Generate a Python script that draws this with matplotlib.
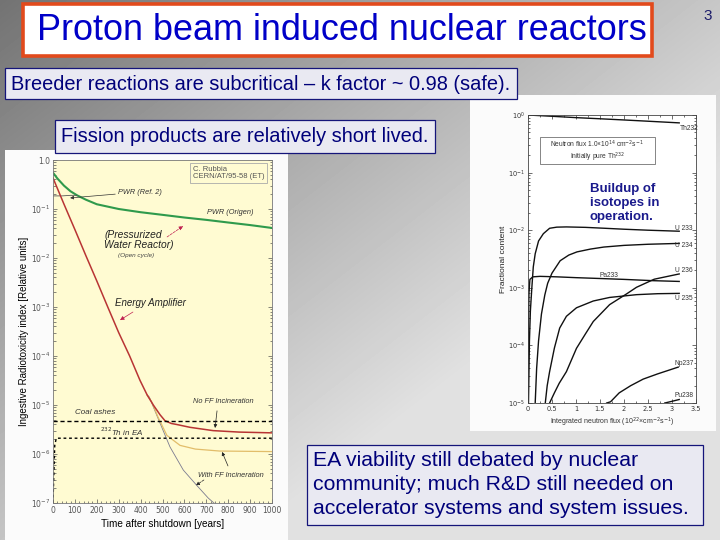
import numpy as np
import matplotlib
matplotlib.use('Agg')
import matplotlib.pyplot as plt
from matplotlib.patches import Rectangle

# ---------------------------------------------------------------------------
# Slide text
# ---------------------------------------------------------------------------
title = "Proton beam induced nuclear reactors"
bullet_k = "Breeder reactions are subcritical \u2013 k factor ~ 0.98 (safe)."
bullet_fp = "Fission products are relatively short lived."
bullet_ea = ["EA viability still debated by nuclear",
             "community; much R&D still needed on",
             "accelerator systems and system issues."]
buildup = "Buildup of\nisotopes in\noperation."
page_no = "3"

# ---------------------------------------------------------------------------
# Left panel: radiotoxicity vs time after shutdown
# ---------------------------------------------------------------------------
t_pwr = [0, 20, 50, 80, 110, 150, 200, 300, 400, 500, 600, 700, 800, 900, 1000]
pwr_origen = [0.55, 0.42, 0.30, 0.23, 0.19, 0.155, 0.125, 0.10, 0.086,
              0.076, 0.067, 0.060, 0.053, 0.047, 0.041]
t_ref2 = [0, 40, 80, 110]
pwr_ref2 = [0.185, 0.185, 0.19, 0.19]

t_ea = [0, 50, 100, 150, 200, 250, 300, 350, 397, 430, 458, 489, 511,
        540, 565, 626, 731, 850, 1000]
ea_no_ff = [4.3e-1, 1.26e-1, 3.8e-2, 1.12e-2, 3.4e-3, 1.0e-3, 3.0e-4,
            1.0e-4, 3.2e-5, 1.6e-5, 1.0e-5, 6.3e-6, 4.8e-6, 4.2e-6,
            4.0e-6, 3.5e-6, 3.0e-6, 2.8e-6, 2.7e-6]
t_ff = [430, 450, 480, 520, 580, 650, 760, 1000]
ea_with_ff = [1.6e-5, 1.17e-5, 5.6e-6, 2.4e-6, 1.5e-6, 1.26e-6, 1.15e-6, 1.12e-6]
t_grey = [430, 440, 473, 534, 595, 656, 709, 735]
ea_grey = [1.6e-5, 1.45e-5, 6.3e-6, 1.4e-6, 4.7e-7, 2.3e-7, 1.26e-7, 1.0e-7]
t_coal = [0, 1000]
coal_ashes = [4.8e-6, 4.8e-6]
t_th = [0, 3, 8, 15, 1000]
th232_ea = [1e-7, 3e-7, 1.5e-6, 2.1e-6, 2.1e-6]

# ---------------------------------------------------------------------------
# Right panel: isotope build-up vs integrated flux
# ---------------------------------------------------------------------------
x_th232 = [0, 0.5, 1, 1.5, 2, 2.5, 3.15]
th232 = [1.0, 0.95, 0.90, 0.86, 0.82, 0.78, 0.73]
x_u233 = [0.01, 0.03, 0.05, 0.08, 0.11, 0.15, 0.22, 0.32, 0.45, 0.6, 0.8,
          1.2, 1.6, 2.0, 2.5, 3.15]
u233 = [1e-5, 1.2e-4, 4e-4, 1e-3, 2.3e-3, 3.9e-3, 6.5e-3, 8.7e-3, 1.08e-2,
        1.13e-2, 1.14e-2, 1.12e-2, 1.08e-2, 1.04e-2, 1.0e-2, 0.96e-2]
x_pa233 = [0.0, 0.01, 0.02, 0.04, 0.1, 0.25, 0.6, 1.0, 1.5, 2.0, 2.6, 3.15]
pa233 = [1e-5, 2e-4, 8e-4, 1.4e-3, 1.55e-3, 1.58e-3, 1.55e-3, 1.5e-3,
         1.45e-3, 1.4e-3, 1.33e-3, 1.29e-3]
x_u234 = [0.15, 0.18, 0.22, 0.28, 0.35, 0.41, 0.5, 0.67, 0.85, 1.02, 1.3,
          1.58, 2.0, 2.5, 3.15]
u234 = [1e-5, 4e-5, 1.2e-4, 3.5e-4, 7.5e-4, 1.2e-3, 1.8e-3, 2.95e-3, 3.7e-3,
        4.2e-3, 4.7e-3, 5.1e-3, 5.45e-3, 5.7e-3, 5.9e-3]
x_u235 = [0.36, 0.4, 0.45, 0.55, 0.66, 0.8, 1.01, 1.36, 1.7, 2.26, 2.7, 3.15]
u235 = [1e-5, 2e-5, 3.5e-5, 9e-5, 2e-4, 3.2e-4, 4.5e-4, 5.9e-4, 6.8e-4,
        7.6e-4, 7.9e-4, 8.0e-4]
x_u236 = [0.45, 0.55, 0.65, 0.8, 1.01, 1.2, 1.36, 1.7, 2.05, 2.26, 2.63, 3.15]
u236 = [1e-5, 1.5e-5, 2.2e-5, 3.5e-5, 8.9e-5, 1.6e-4, 2.6e-4, 5.1e-4,
        7.8e-4, 1.02e-3, 1.41e-3, 1.74e-3]
x_np237 = [1.64, 1.72, 1.9, 2.14, 2.4, 2.7, 3.13]
np237 = [1e-5, 1.05e-5, 1.5e-5, 2.0e-5, 2.6e-5, 3.2e-5, 4.2e-5]
x_pu238 = [2.85, 3.0, 3.15]
pu238 = [1e-5, 1.07e-5, 1.15e-5]

W, H = 720, 540
NAVY = '#00007a'
NARROW = ['Liberation Sans Narrow', 'Liberation Sans', 'DejaVu Sans']
SANS = ['Liberation Sans', 'DejaVu Sans']


def frac(x0, y0, x1, y1):
    """pixel box (top-left origin) -> figure fraction rect"""
    return [x0 / W, 1 - y1 / H, (x1 - x0) / W, (y1 - y0) / H]


fig = plt.figure(figsize=(7.2, 5.4), dpi=100)

# ── background gradient + white picture panels ──
ax_bg = fig.add_axes([0, 0, 1, 1], zorder=0)
yy, xx = np.mgrid[0:H, 0:W]
grad = np.clip(0.45 + 0.33 * xx / W + 0.32 * yy / H, 0, 0.88)
ax_bg.imshow(grad, cmap='gray', vmin=0, vmax=1, extent=[0, W, H, 0],
             aspect='auto', interpolation='bilinear')
ax_bg.add_patch(Rectangle((5, 150), 283, 392, fc='#fbfbfb', ec='none'))
ax_bg.add_patch(Rectangle((470, 95), 246, 336, fc='#fbfbfb', ec='none'))
ax_bg.set_xlim(0, W)
ax_bg.set_ylim(H, 0)
ax_bg.axis('off')

# ── left panel ──
ax1 = fig.add_axes(frac(53, 160, 272, 503), zorder=2)
ax1.set_facecolor('#fffbd2')
ax1.plot(t_pwr, pwr_origen, color='#2f9a4c', lw=1.5)
ax1.plot(t_ref2, pwr_ref2, color='#555555', lw=0.6)
ax1.plot(t_grey, ea_grey, color='#7a7a90', lw=0.6)
ax1.plot(t_ff, ea_with_ff, color='#e2bd6a', lw=0.9)
ax1.plot(t_ea, ea_no_ff, color='#b83434', lw=1.1)
ax1.plot(t_coal, coal_ashes, color='k', lw=1.0, ls=(0, (3, 2)))
ax1.plot(t_th, th232_ea, color='k', lw=1.0, ls=(0, (2, 2)))
ax1.set_yscale('log')
ax1.set_ylim(1e-7, 1.0)
ax1.set_xlim(0, 1000)
ax1.set_xticks(range(0, 1001, 100))
ax1.set_xticks(range(0, 1001, 20), minor=True)
ax1.set_yticks([10.0 ** -k for k in range(8)])
ax1.set_yticklabels(['1.0'] + [r'$10^{-%d}$' % k for k in range(1, 8)])
ax1.tick_params(which='both', direction='in', right=True, colors='#555555',
                labelsize=5.5, width=0.5, pad=2)
ax1.tick_params(which='major', length=3)
ax1.tick_params(which='minor', length=1.8)
for s in ax1.spines.values():
    s.set_color('#777777')
    s.set_linewidth(0.6)
ax1.set_xlabel('Time after shutdown [years]', fontsize=7.2, family=SANS,
               labelpad=3)
ax1.set_ylabel('Ingestive Radiotoxicity index [Relative units]', fontsize=7,
               family=SANS, labelpad=1)

small = dict(fontsize=5.3, style='italic', color='#333333', family=SANS)
ax1.text(639, 0.76, 'C. Rubbia\nCERN/AT/95-58 (ET)', fontsize=5.5,
         color='#555555', va='top', family=SANS, linespacing=1.1,
         bbox=dict(boxstyle='square,pad=0.35', fc='none', ec='#aaaaaa', lw=0.6))
ax1.annotate('PWR (Ref. 2)', xy=(78, 0.168), xytext=(297, 0.222),
             va='center', **small,
             arrowprops=dict(arrowstyle='-|>', lw=0.5, color='#333333',
                             mutation_scale=5, shrinkA=0, shrinkB=0))
ax1.text(703, 0.083, 'PWR (Origen)', va='center', **small)
ax1.text(233, 0.023, '(Pressurized\nWater Reactor)', fontsize=7.4,
         style='italic', color='#222222', va='center', family=SANS,
         linespacing=1.0)
ax1.text(297, 0.0115, '(Open cycle)', va='center', fontsize=4.6,
         style='italic', color='#444444', family=SANS)
ax1.annotate('', xy=(594, 0.0448), xytext=(521, 0.0269),
             arrowprops=dict(arrowstyle='-|>', lw=0.5, color='#c02050',
                             mutation_scale=6, shrinkA=0, shrinkB=0,
                             ls='--'))
ax1.text(283, 1.2e-3, 'Energy Amplifier', va='center', fontsize=7,
         style='italic', color='#222222', family=SANS)
ax1.annotate('', xy=(306, 5.4e-4), xytext=(365, 7.9e-4),
             arrowprops=dict(arrowstyle='-|>', lw=0.5, color='#c02050',
                             mutation_scale=6, shrinkA=0, shrinkB=0))
ax1.text(639, 1.2e-5, 'No FF Incineration', va='center', **small)
ax1.annotate('', xy=(740, 3.4e-6), xytext=(749, 7.6e-6),
             arrowprops=dict(arrowstyle='-|>', lw=0.5, color='#222222',
                             mutation_scale=5, shrinkA=0, shrinkB=0))
ax1.text(100, 6.9e-6, 'Coal ashes', va='center', fontsize=5.8,
         style='italic', color='#333333', family=SANS)
ax1.text(215, 2.8e-6, r'$^{232}$Th in EA', va='center', fontsize=5.8,
         style='italic', color='#333333', family=SANS)
ax1.text(662, 3.7e-7, 'With FF Incineration', va='center', **small)
ax1.annotate('', xy=(772, 1.1e-6), xytext=(799, 5.7e-7),
             arrowprops=dict(arrowstyle='-|>', lw=0.5, color='#222222',
                             mutation_scale=5, shrinkA=0, shrinkB=0))
ax1.annotate('', xy=(653, 2.3e-7), xytext=(689, 2.95e-7),
             arrowprops=dict(arrowstyle='-|>', lw=0.5, color='#222222',
                             mutation_scale=5, shrinkA=0, shrinkB=0,
                             ls='--'))

# ── right panel ──
ax2 = fig.add_axes(frac(528, 115, 696, 403), zorder=2)
ax2.set_facecolor('white')
for xs, ys in [(x_th232, th232), (x_u233, u233), (x_pa233, pa233),
               (x_u234, u234), (x_u235, u235), (x_u236, u236),
               (x_np237, np237), (x_pu238, pu238)]:
    ax2.plot(xs, ys, color='#111111', lw=1.0)
ax2.set_yscale('log')
ax2.set_ylim(1e-5, 1.0)
ax2.set_xlim(0, 3.5)
ax2.set_xticks([0, 0.5, 1, 1.5, 2, 2.5, 3, 3.5])
ax2.set_xticklabels(['0', '0.5', '1', '1.5', '2', '2.5', '3', '3.5'])
ax2.set_xticks(np.arange(0, 3.51, 0.25), minor=True)
ax2.set_yticks([10.0 ** -k for k in range(6)])
ax2.set_yticklabels([r'$10^{%d}$' % -k for k in range(6)])
ax2.tick_params(which='both', direction='in', top=True, right=True,
                labelsize=4.8, width=0.5, colors='#333333', pad=2)
ax2.tick_params(which='major', length=3)
ax2.tick_params(which='minor', length=1.6)
for s in ax2.spines.values():
    s.set_linewidth(0.6)
    s.set_color('#444444')
ax2.set_xlabel('Integrated neutron flux (10$^{22}$\u00d7cm$^{-2}$s$^{-1}$)',
               fontsize=5, family=SANS, labelpad=3, color='#333333')
ax2.set_ylabel('Fractional content', fontsize=6, family=SANS, labelpad=1,
               color='#222222')

lab = dict(fontsize=4.8, color='#333333', family=SANS, ha='center',
           va='center')
ax2.text(3.35, 0.59, 'Th232', **lab)
ax2.text(3.25, 10 ** -1.97, 'U 233', **lab)
ax2.text(3.25, 10 ** -2.26, 'U 234', **lab)
ax2.text(3.24, 10 ** -2.70, 'U 236', **lab)
ax2.text(3.24, 10 ** -3.18, 'U 235', **lab)
ax2.text(1.68, 10 ** -2.78, 'Pa233', **lab)
ax2.text(3.25, 10 ** -4.31, 'Np237', **lab)
ax2.text(3.25, 10 ** -4.87, 'Pu238', **lab)
ax2.add_patch(Rectangle((0.071, 0.830), 0.685, 0.094, transform=ax2.transAxes,
                        fc='white', ec='#555555', lw=0.5))
ax2.text(0.413, 0.898, 'Neutron flux 1.0\u00d710$^{14}$ cm$^{-2}$s$^{-1}$',
         transform=ax2.transAxes, **lab)
ax2.text(0.413, 0.853, 'Initially pure Th$^{232}$', transform=ax2.transAxes,
         **lab)

# ── slide text boxes ──
ax_fg = fig.add_axes([0, 0, 1, 1], zorder=5)
ax_fg.patch.set_alpha(0)
ax_fg.set_xlim(0, W)
ax_fg.set_ylim(H, 0)
ax_fg.axis('off')

ax_fg.add_patch(Rectangle((23, 4), 629, 52, fc='white', ec='#e24a1c', lw=2.6))
ax_fg.text(342, 31, title, fontsize=25.9, color='#0000c8', ha='center',
           va='center', family=SANS)
ax_fg.text(708, 16, page_no, fontsize=11, color='#1c1c6a', ha='center',
           va='center', family=SANS)

box_kw = dict(fc='#e9e9f2', ec='#15157a', lw=0.9)
ax_fg.add_patch(Rectangle((5, 68), 512, 31, **box_kw))
ax_fg.text(261, 84, bullet_k, fontsize=14.4, color=NAVY, ha='center',
           va='center', family=NARROW)
ax_fg.add_patch(Rectangle((55, 120), 380, 33, **box_kw))
ax_fg.text(245, 137, bullet_fp, fontsize=14.4, color=NAVY, ha='center',
           va='center', family=NARROW)
ax_fg.add_patch(Rectangle((307, 445), 396, 80, **box_kw))
for i, line in enumerate(bullet_ea):
    ax_fg.text(313, 460 + 24 * i, line, fontsize=15.3, color=NAVY,
               ha='left', va='center', family=SANS)
ax_fg.text(590, 203, buildup, fontsize=9.5, weight='bold', color='#1a1a8c',
           ha='left', va='center', family=SANS, linespacing=1.25)

fig.savefig('out.png', dpi=100)
